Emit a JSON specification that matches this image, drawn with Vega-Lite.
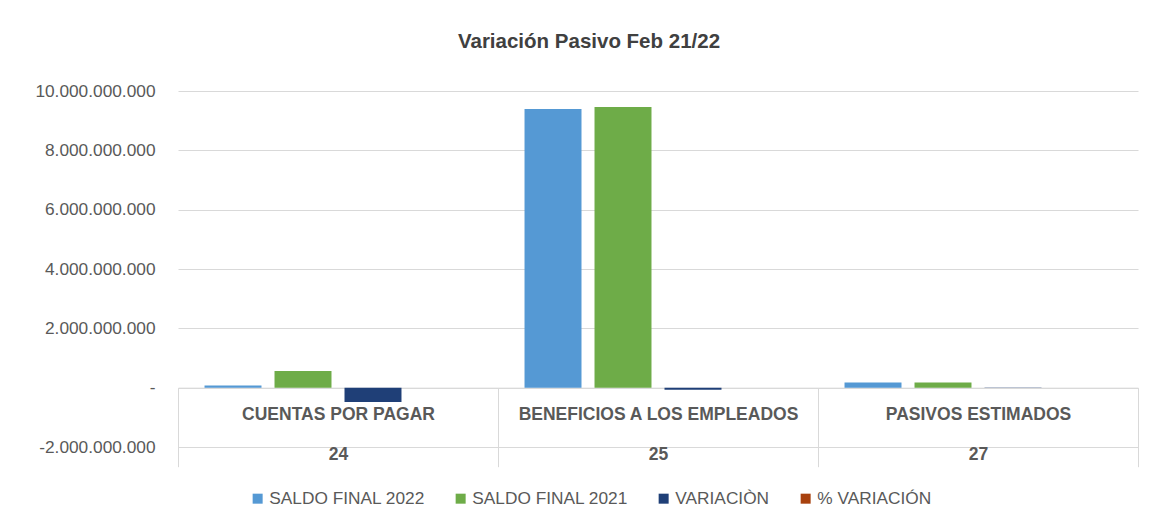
{
  "$schema": "https://vega.github.io/schema/vega-lite/v6.json",
  "autosize": "none",
  "width": 960,
  "height": 356,
  "padding": {"left": 178, "top": 91, "right": 23, "bottom": 84},
  "background": "white",
  "title": {
    "text": "Variación Pasivo Feb 21/22",
    "font": "Liberation Sans",
    "fontSize": 20.5,
    "fontWeight": "bold",
    "color": "#404040",
    "anchor": "middle",
    "frame": "group",
    "dx": -69,
    "offset": 30
  },
  "data": {
    "values": [
      {"cat": "CUENTAS POR PAGAR|24", "serie": "SALDO FINAL 2022", "valor": 75000000},
      {"cat": "CUENTAS POR PAGAR|24", "serie": "SALDO FINAL 2021", "valor": 560000000},
      {"cat": "CUENTAS POR PAGAR|24", "serie": "VARIACIÒN", "valor": -485000000},
      {"cat": "CUENTAS POR PAGAR|24", "serie": "% VARIACIÓN", "valor": -0.87},
      {"cat": "BENEFICIOS A LOS EMPLEADOS|25", "serie": "SALDO FINAL 2022", "valor": 9390000000},
      {"cat": "BENEFICIOS A LOS EMPLEADOS|25", "serie": "SALDO FINAL 2021", "valor": 9460000000},
      {"cat": "BENEFICIOS A LOS EMPLEADOS|25", "serie": "VARIACIÒN", "valor": -70000000},
      {"cat": "BENEFICIOS A LOS EMPLEADOS|25", "serie": "% VARIACIÓN", "valor": -0.01},
      {"cat": "PASIVOS ESTIMADOS|27", "serie": "SALDO FINAL 2022", "valor": 175000000},
      {"cat": "PASIVOS ESTIMADOS|27", "serie": "SALDO FINAL 2021", "valor": 170000000},
      {"cat": "PASIVOS ESTIMADOS|27", "serie": "VARIACIÒN", "valor": 5000000},
      {"cat": "PASIVOS ESTIMADOS|27", "serie": "% VARIACIÓN", "valor": 0.03}
    ]
  },
  "mark": {"type": "bar"},
  "encoding": {
    "x": {
      "field": "cat",
      "type": "nominal",
      "sort": null,
      "scale": {"paddingInner": 0, "paddingOuter": 0},
      "axis": {
        "title": null,
        "offset": -59.33,
        "labelAngle": 0,
        "labelExpr": "split(datum.label, '|')",
        "labelFont": "Liberation Sans",
        "labelFontSize": 17.5,
        "labelFontWeight": "bold",
        "labelColor": "#595959",
        "labelLineHeight": 40,
        "labelPadding": -61,
        "labelBaseline": "top",
        "labelLimit": 0,
        "tickBand": "extent",
        "tickSize": 79,
        "tickColor": "#d9d9d9",
        "tickWidth": 1,
        "domainColor": "#d9d9d9",
        "domainWidth": 1,
        "grid": false
      }
    },
    "xOffset": {
      "field": "serie",
      "type": "nominal",
      "sort": ["SALDO FINAL 2022", "SALDO FINAL 2021", "VARIACIÒN", "% VARIACIÓN"],
      "scale": {"paddingInner": 0.186, "paddingOuter": 0.379}
    },
    "y": {
      "field": "valor",
      "type": "quantitative",
      "scale": {"domain": [-2000000000, 10000000000], "nice": false, "zero": false},
      "axis": {
        "title": null,
        "values": [-2000000000, 0, 2000000000, 4000000000, 6000000000, 8000000000, 10000000000],
        "labelExpr": "datum.value == 0 ? '-' : (datum.value < 0 ? '-' : '') + replace(format(abs(datum.value), ','), /,/g, '.')",
        "labelFont": "Liberation Sans",
        "labelFontSize": 17.3,
        "labelColor": "#595959",
        "labelPadding": 23,
        "ticks": false,
        "domain": false,
        "grid": true,
        "gridColor": "#d9d9d9",
        "gridWidth": 1
      }
    },
    "color": {
      "field": "serie",
      "type": "nominal",
      "sort": ["SALDO FINAL 2022", "SALDO FINAL 2021", "VARIACIÒN", "% VARIACIÓN"],
      "scale": {
        "domain": ["SALDO FINAL 2022", "SALDO FINAL 2021", "VARIACIÒN", "% VARIACIÓN"],
        "range": ["#5599D4", "#6EAC48", "#1F3F77", "#A8410E"]
      },
      "legend": {
        "title": null,
        "orient": "none",
        "direction": "horizontal",
        "legendX": 71,
        "legendY": 399,
        "symbolType": "square",
        "symbolSize": 100,
        "symbolStrokeWidth": 0,
        "labelFont": "Liberation Sans",
        "labelFontSize": 17.3,
        "labelColor": "#595959",
        "labelOffset": 3,
        "labelLimit": 0,
        "columnPadding": 27
      }
    }
  },
  "config": {
    "view": {"stroke": null}
  }
}
